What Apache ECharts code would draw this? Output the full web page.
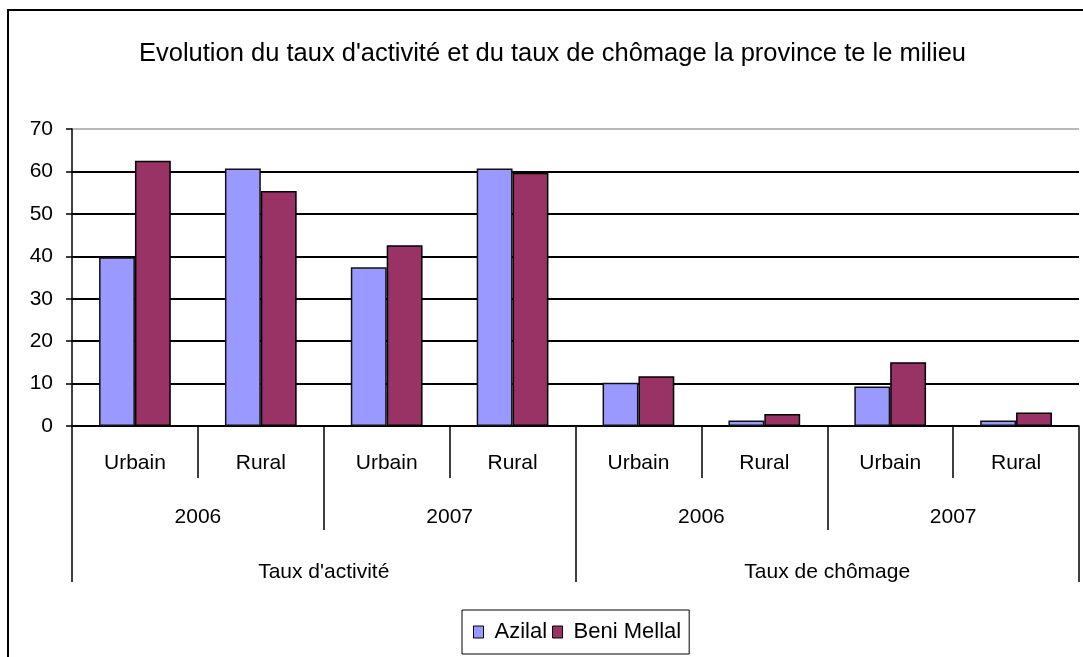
<!DOCTYPE html>
<html>
<head>
<meta charset="utf-8">
<script src="https://cdn.jsdelivr.net/npm/echarts@6/dist/echarts.min.js"></script>
<style>
html,body{margin:0;padding:0;background:#fff;}
#chart{width:1083px;height:657px;}
</style>
</head>
<body>
<div id="chart"></div>
<script>
var categories = ['Urbain','Rural','Urbain','Rural','Urbain','Rural','Urbain','Rural'];
var years = ['2006','2007','2006','2007'];
var indicators = ["Taux d'activité", 'Taux de chômage'];
var azilal = [39.8, 60.7, 37.4, 60.7, 10.2, 1.3, 9.3, 1.3];
var beniMellal = [62.5, 55.4, 42.6, 59.7, 11.7, 2.8, 15.0, 3.2];
var yTicks = [0, 10, 20, 30, 40, 50, 60, 70];

var FONT = "'Liberation Sans', Arial, sans-serif";
var chart = echarts.init(document.getElementById('chart'), null, {renderer: 'canvas'});

function catAxis(data, tickLen, margin, showLine) {
  return {
    type: 'category',
    data: data,
    position: 'bottom',
    gridIndex: 0,
    axisLine: {show: showLine, lineStyle: {color: '#000', width: 1.5}},
    axisTick: {show: true, interval: 0, length: tickLen, alignWithLabel: false,
               lineStyle: {color: '#000', width: 1.5}},
    axisLabel: {interval: 0, margin: margin, color: '#000', fontSize: 21,
                fontFamily: FONT, verticalAlign: 'middle'},
    splitLine: {show: false}
  };
}

chart.setOption({
  animation: false,
  backgroundColor: '#fff',
  title: {
    text: "Evolution du taux d'activité et du taux de chômage la province te le milieu",
    left: 139,
    top: 41,
    padding: 0,
    textStyle: {fontFamily: FONT, fontSize: 25.5, fontWeight: 'normal', color: '#000'}
  },
  legend: {
    data: ['Azilal', 'Beni Mellal'],
    left: 462,
    top: 610,
    orient: 'horizontal',
    padding: [11, 8, 11, 11],
    itemGap: 5,
    itemWidth: 10,
    itemHeight: 12,
    icon: 'rect',
    borderColor: '#000',
    borderWidth: 1,
    textStyle: {fontFamily: FONT, fontSize: 22, color: '#000', padding: [0, 0, 0, 6]},
    itemStyle: {borderColor: '#000', borderWidth: 1}
  },
  grid: {left: 72, right: 4, top: 129, bottom: 231, containLabel: false},
  xAxis: [
    catAxis(categories, 52, 37, true),
    catAxis(years, 104, 91, false),
    catAxis(indicators, 156, 146, false)
  ],
  yAxis: {
    type: 'value',
    min: 0,
    max: 70,
    interval: 10,
    axisLine: {show: true, lineStyle: {color: '#000', width: 1.5}},
    axisTick: {show: true, length: 6, lineStyle: {color: '#000', width: 1.5}},
    axisLabel: {margin: 19, color: '#000', fontSize: 21, fontFamily: FONT,
                formatter: function (v) { return yTicks.indexOf(v) >= 0 ? String(v) : ''; }},
    splitLine: {show: true, lineStyle: {color: ['#000','#000','#000','#000','#000','#000','#000','#b8b8b8'], width: 1.8}}
  },
  graphic: [{
    type: 'rect',
    shape: {x: 8, y: 10, width: 1200, height: 800},
    style: {fill: 'none', stroke: '#000', lineWidth: 2},
    silent: true,
    z: 100
  }],
  series: [
    {
      name: 'Azilal', type: 'bar', xAxisIndex: 0, data: azilal,
      barGap: '0%', barCategoryGap: '43%',
      itemStyle: {color: '#9999FF', borderColor: '#111', borderWidth: 1.5}
    },
    {
      name: 'Beni Mellal', type: 'bar', xAxisIndex: 0, data: beniMellal,
      barGap: '0%', barCategoryGap: '43%',
      itemStyle: {color: '#993366', borderColor: '#000', borderWidth: 1.5}
    }
  ]
});
</script>
</body>
</html>
